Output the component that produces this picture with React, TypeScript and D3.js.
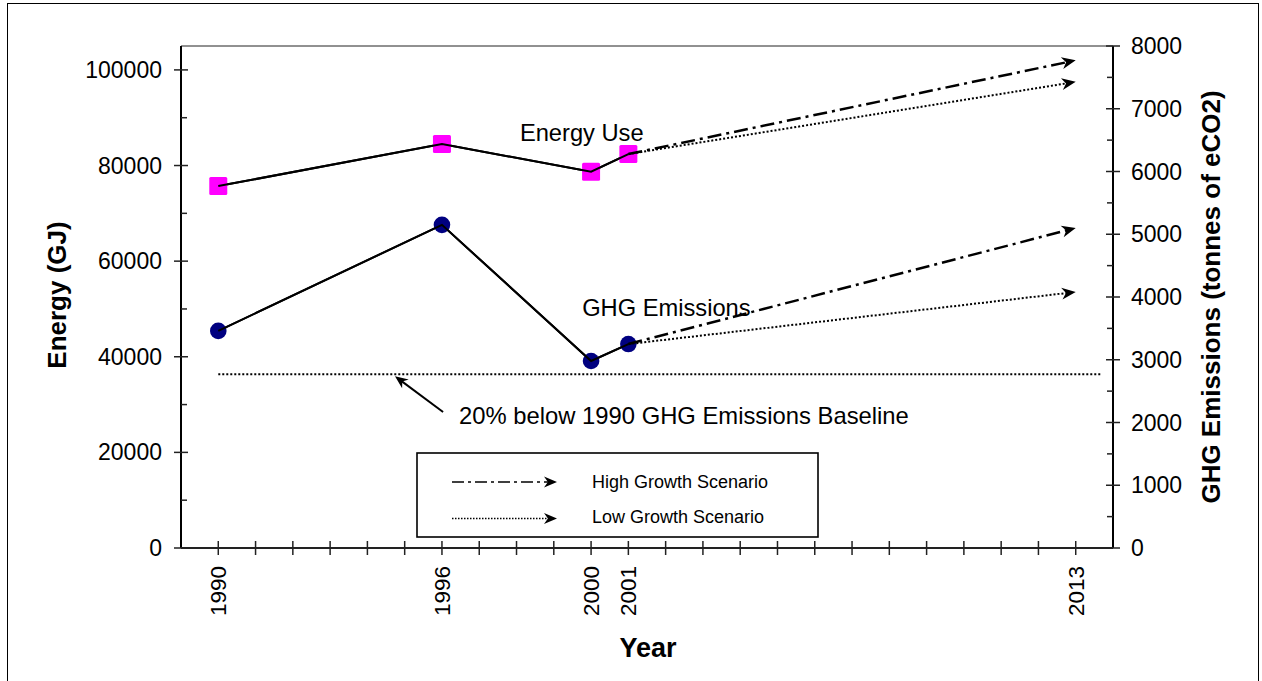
import React from "react";
import * as d3 from "d3";

// ---- data ----
const years = [1990, 1996, 2000, 2001];
const energyUse = [75700, 84500, 78700, 82400];
const ghgEmissions = [3460, 5150, 2980, 3250];
const projectionYears = [2001, 2013];
const energyHigh = [82400, 102000];
const energyLow = [82400, 97500];
const ghgHigh = [3250, 5100];
const ghgLow = [3250, 4080];
const baselineYears = [1990, 2013.7];
const baselineValue = 2770;
const yearTickLabels = [1990, 1996, 2000, 2001, 2013];
const leftTicks = [0, 20000, 40000, 60000, 80000, 100000];
const rightTicks = [0, 1000, 2000, 3000, 4000, 5000, 6000, 7000, 8000];

const FONT = "'Liberation Sans', Arial, Helvetica, sans-serif";

const x = d3.scaleLinear().domain([1989, 2014]).range([181, 1113]);
const yL = d3.scaleLinear().domain([0, 105000]).range([548, 46]);
const yR = d3.scaleLinear().domain([0, 8000]).range([548, 46]);

function Arrow({ x1, y1, x2, y2, dash, width, head = 14, half = 6 }: any) {
  const ang = (Math.atan2(y2 - y1, x2 - x1) * 180) / Math.PI;
  const len = Math.hypot(x2 - x1, y2 - y1);
  return (
    <g transform={`translate(${x1},${y1}) rotate(${ang})`}>
      <line x1={0} y1={0} x2={len - head * 0.6} y2={0} stroke="#000" strokeWidth={width} strokeDasharray={dash} />
      <path d={`M${len},0 L${len - head},${-half} L${len - head * 0.7},0 L${len - head},${half} Z`} fill="#000" />
    </g>
  );
}

export default function App() {
  const energyLine = d3.line<number>().x((_, i) => x(years[i])).y((d) => yL(d));
  const ghgLine = d3.line<number>().x((_, i) => x(years[i])).y((d) => yR(d));

  const yearsAll = d3.range(1990, 2014);
  const leftMinor = d3.range(10000, 105000, 20000);
  const rightMinor = d3.range(500, 8000, 1000);

  const baseY = yR(baselineValue);
  const HIGH_DASH = "14,5,3,5";
  const LOW_DASH = "2,2";

  return (
    <svg width={1262} height={681} style={{ position: "absolute", left: 0, top: 0, background: "#fff" }} fontFamily={FONT}>
      <rect x={0} y={0} width={1262} height={681} fill="#fff" />
      {/* outer border */}
      <rect x={7.5} y={3.5} width={1251} height={700} fill="none" stroke="#000" strokeWidth={1} />

      {/* plot frame top */}
      <line x1={x(1989)} x2={x(2014)} y1={yL(105000)} y2={yL(105000)} stroke="#222" strokeWidth={1} />

      {/* baseline dotted */}
      <line x1={x(baselineYears[0])} x2={x(baselineYears[1])} y1={baseY} y2={baseY} stroke="#000" strokeWidth={2} strokeDasharray="2,2" />

      {/* legend */}
      <rect x={417} y={453} width={401} height={84} fill="#fff" stroke="#000" strokeWidth={1.6} />
      <Arrow x1={452} y1={482} x2={557} y2={482} dash="12,4,3,4" width={1.6} head={13} half={5.5} />
      <Arrow x1={452} y1={518.5} x2={557} y2={518.5} dash="1.5,1.5" width={1.3} head={13} half={5.5} />
      <text x={592} y={488} fontSize={18} fill="#000">High Growth Scenario</text>
      <text x={592} y={522.5} fontSize={18} fill="#000">Low Growth Scenario</text>

      {/* series lines */}
      <path d={energyLine(energyUse) || ""} fill="none" stroke="#000" strokeWidth={2} />
      <path d={ghgLine(ghgEmissions) || ""} fill="none" stroke="#000" strokeWidth={2} />

      {/* markers */}
      {energyUse.map((v, i) => (
        <rect key={"e" + i} x={x(years[i]) - 9} y={yL(v) - 9} width={18} height={18} rx={1.5} fill="#FF00FF" />
      ))}
      {ghgEmissions.map((v, i) => (
        <circle key={"g" + i} cx={x(years[i])} cy={yR(v)} r={8.3} fill="#000080" />
      ))}
      {/* lines over markers */}
      <path d={energyLine(energyUse) || ""} fill="none" stroke="#000" strokeWidth={2} />
      <path d={ghgLine(ghgEmissions) || ""} fill="none" stroke="#000" strokeWidth={2} />

      {/* projections */}
      <Arrow x1={x(projectionYears[0])} y1={yL(energyHigh[0])} x2={x(projectionYears[1])} y2={yL(energyHigh[1])} dash={HIGH_DASH} width={2.5} />
      <Arrow x1={x(projectionYears[0])} y1={yL(energyLow[0])} x2={x(projectionYears[1])} y2={yL(energyLow[1])} dash={LOW_DASH} width={2} />
      <Arrow x1={x(projectionYears[0])} y1={yR(ghgHigh[0])} x2={x(projectionYears[1])} y2={yR(ghgHigh[1])} dash={HIGH_DASH} width={2.5} />
      <Arrow x1={x(projectionYears[0])} y1={yR(ghgLow[0])} x2={x(projectionYears[1])} y2={yR(ghgLow[1])} dash={LOW_DASH} width={2} />

      {/* annotations */}
      <text x={x(1998.09)} y={yL(85140)} fontSize={23.7} fill="#000">Energy Use</text>
      <text x={x(1999.76)} y={yR(3697)} fontSize={23.7} fill="#000">GHG Emissions</text>
      <text x={x(1996.46)} y={yR(1976)} fontSize={23.8} fill="#000">20% below 1990 GHG Emissions Baseline</text>
      <Arrow x1={x(1996.03)} y1={yR(2167)} x2={x(1994.74)} y2={baseY + 2} width={2} head={13} half={5.5} />

      {/* left axis */}
      <line x1={x(1989)} x2={x(1989)} y1={yL(0)} y2={yL(105000)} stroke="#000" strokeWidth={2} />
      {leftTicks.map((t) => (
        <g key={"lt" + t}>
          <line x1={174} x2={188} y1={yL(t)} y2={yL(t)} stroke="#222" strokeWidth={1.5} />
          <text x={162} y={yL(t)} dy="0.35em" textAnchor="end" fontSize={23} fill="#000">{t}</text>
        </g>
      ))}
      {leftMinor.map((t) => (
        <line key={"lm" + t} x1={181} x2={187} y1={yL(t)} y2={yL(t)} stroke="#222" strokeWidth={1.5} />
      ))}

      {/* right axis */}
      <line x1={x(2014)} x2={x(2014)} y1={yR(0)} y2={yR(8000)} stroke="#000" strokeWidth={2} />
      {rightTicks.map((t) => (
        <g key={"rt" + t}>
          <line x1={1106} x2={1120} y1={yR(t)} y2={yR(t)} stroke="#222" strokeWidth={1.5} />
          <text x={1131} y={yR(t)} dy="0.35em" fontSize={23} fill="#000">{t}</text>
        </g>
      ))}
      {rightMinor.map((t) => (
        <line key={"rm" + t} x1={1107} x2={1113} y1={yR(t)} y2={yR(t)} stroke="#222" strokeWidth={1.5} />
      ))}

      {/* bottom axis */}
      <line x1={x(1989)} x2={x(2014)} y1={548} y2={548} stroke="#222" strokeWidth={2} />
      {yearsAll.map((yr) => (
        <line key={"xt" + yr} x1={x(yr)} x2={x(yr)} y1={541} y2={555} stroke="#222" strokeWidth={1.5} />
      ))}
      {yearTickLabels.map((yr) => (
        <text key={"xl" + yr} transform={`translate(${x(yr)},566) rotate(-90)`} textAnchor="end" dy="0.35em" fontSize={22.5} fill="#000">{yr}</text>
      ))}

      {/* axis titles */}
      <text x={648} y={657} textAnchor="middle" fontSize={27} fontWeight="bold" fill="#000">Year</text>
      <text transform="translate(66,295) rotate(-90)" textAnchor="middle" fontSize={26} fontWeight="bold" fill="#000">Energy (GJ)</text>
      <text transform="translate(1220,297) rotate(-90)" textAnchor="middle" fontSize={26} fontWeight="bold" fill="#000">GHG Emissions (tonnes of eCO2)</text>
    </svg>
  );
}
